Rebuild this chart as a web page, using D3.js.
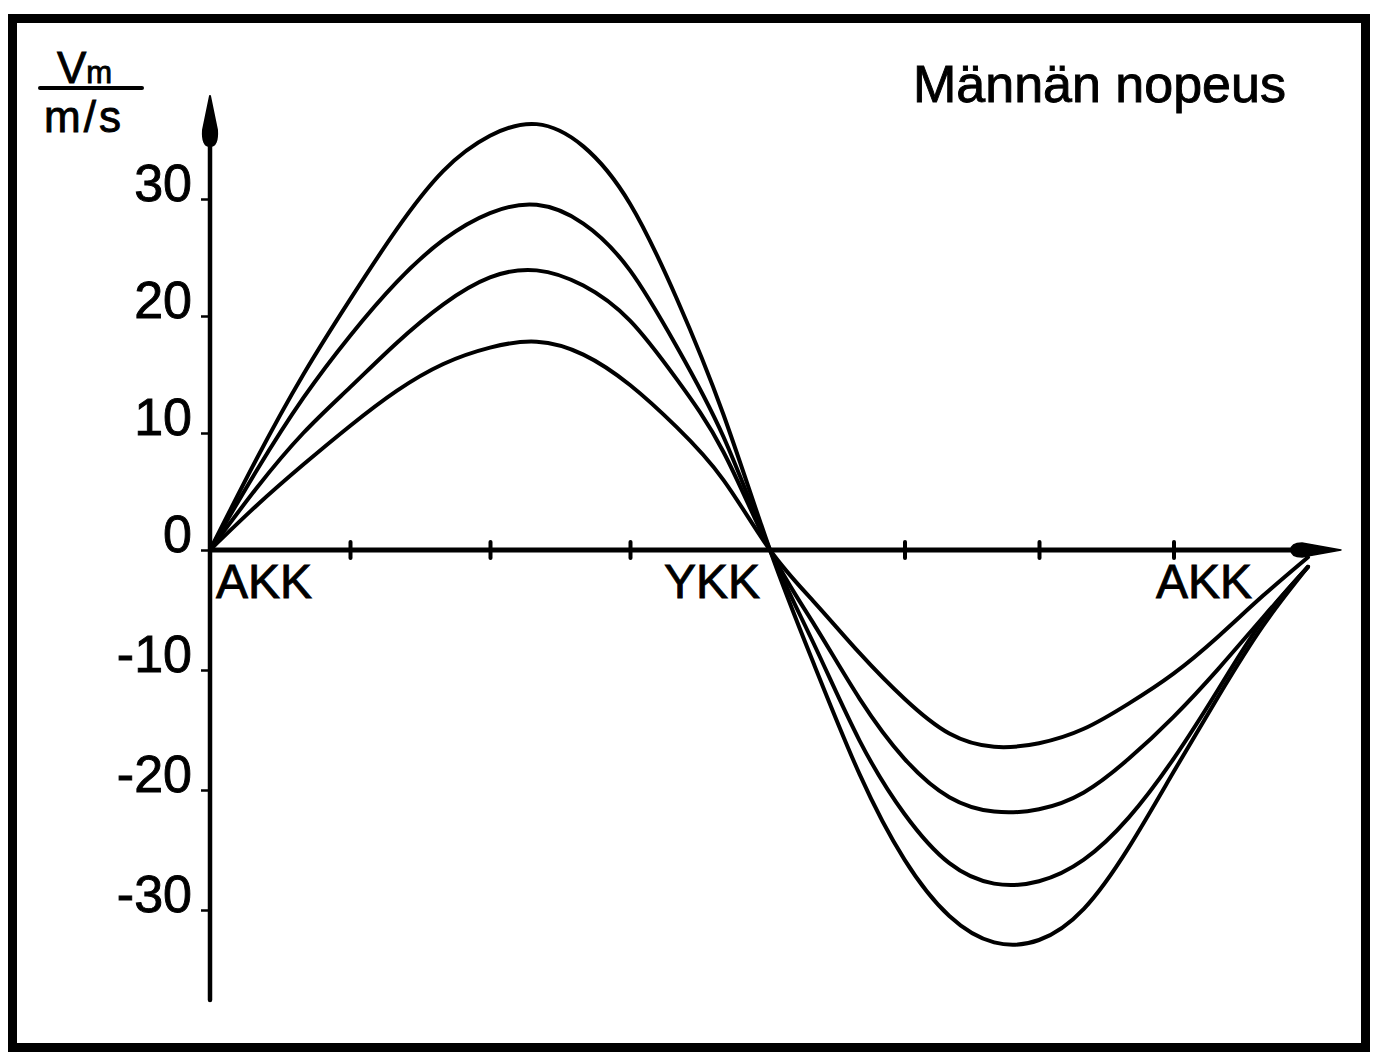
<!DOCTYPE html>
<html>
<head>
<meta charset="utf-8">
<script src="https://cdn.jsdelivr.net/npm/d3@7"></script>
<style>
  html, body { margin: 0; padding: 0; background: #fff; }
  svg { display: block; }
  text { font-family: "Liberation Sans", Arial, sans-serif; fill: #000; stroke: #000; stroke-width: 0.9px; }
</style>
</head>
<body>
<svg id="chart" width="1384" height="1052"></svg>
<script>
// Crank angle (degrees from bottom dead centre) and piston speed in m/s
const crankAngles = [0, 15, 30, 45, 60, 75, 90, 105, 120, 135, 150, 165, 180,
                     195, 210, 225, 240, 255, 270, 285, 300, 315, 330, 345, 360];

const speedCurve1 = [0, 7.8, 15.0, 21.4, 27.4, 32.4, 35.4, 36.4, 34.5, 29.6, 21.5, 11.6, 0,
                     -9.7, -18.7, -25.8, -30.5, -32.7, -32.5, -29.9, -24.8, -18.5, -12.2, -6.3, -1.4];
const speedCurve2 = [0, 6.8, 13.0, 18.3, 22.9, 26.5, 28.8, 29.5, 27.9, 23.9, 17.4, 9.7, 0,
                     -8.0, -15.9, -22.0, -26.1, -27.8, -27.6, -25.8, -22.3, -17.4, -11.6, -5.8, -1.4];
const speedCurve3 = [0, 5.3, 10.0, 13.9, 17.7, 21.0, 23.3, 23.9, 22.6, 19.6, 14.6, 8.4, 0,
                     -6.3, -12.4, -17.4, -20.6, -21.8, -21.6, -20.2, -17.4, -13.9, -9.9, -5.6, -1.4];
const speedCurve4 = [0, 3.8, 7.3, 10.6, 13.6, 15.9, 17.3, 17.8, 16.7, 14.1, 10.5, 6.0, 0,
                     -4.4, -8.6, -12.4, -15.3, -16.4, -16.1, -14.9, -12.8, -10.3, -7.2, -3.8, -0.6];

const yTickValues = [-30, -20, -10, 0, 10, 20, 30];
const xTickValues = [45, 90, 135, 225, 270, 315];
const deadCentreLabels = [
  { angle: 0,   text: "AKK" },
  { angle: 180, text: "YKK" },
  { angle: 360, text: "AKK" }
];
const titleText = "Männän nopeus";
const unitTop = "V";
const unitTopSub = "m";
const unitBottom = "m/s";

const svg = d3.select("#chart");

// Scales (piecewise to follow the drawn grid)
const x = d3.scaleLinear().domain([0, 180, 360]).range([210, 770, 1308]);
const y = d3.scaleLinear().domain([-30, 0, 30]).range([910, 550, 199]);
const x0 = x(0), y0 = y(0);

// Frame
svg.append("rect")
  .attr("x", 12.5).attr("y", 18.5)
  .attr("width", 1353).attr("height", 1029)
  .attr("fill", "none").attr("stroke", "#000").attr("stroke-width", 9);

// Y axis with ticks and labels
const yAxis = d3.axisLeft(y)
  .tickValues(yTickValues)
  .tickSize(9)
  .tickPadding(9)
  .tickFormat(d => String(d).replace("\u2212", "-"));
const gy = svg.append("g").attr("transform", `translate(${x0},0)`).call(yAxis);
gy.select(".domain").remove();
gy.selectAll(".tick line").attr("stroke", "#000").attr("stroke-width", 2.5);
gy.selectAll(".tick text")
  .attr("dy", "0.02em")
  .style("font-size", "52px")
  .style("font-family", "'Liberation Sans', Arial, sans-serif")
  .attr("fill", "#000");

// Y axis line and arrowhead
svg.append("line")
  .attr("x1", x0).attr("x2", x0)
  .attr("y1", 1000).attr("y2", 140)
  .attr("stroke", "#000").attr("stroke-width", 4.5).attr("stroke-linecap", "round");
svg.append("path")
  .attr("d", `M${x0},96 L${x0 - 7},130 Q${x0 - 8},146 ${x0},146 Q${x0 + 8},146 ${x0 + 7},130 Z`)
  .attr("fill", "#000").attr("stroke", "#000").attr("stroke-width", 2).attr("stroke-linejoin", "round");

// X axis line, ticks and arrowhead
svg.append("line")
  .attr("x1", x0).attr("x2", 1300)
  .attr("y1", y0).attr("y2", y0)
  .attr("stroke", "#000").attr("stroke-width", 5);
const xAxis = d3.axisBottom(x).tickValues(xTickValues).tickSize(8).tickFormat("");
const gx = svg.append("g").attr("transform", `translate(0,${y0})`).call(xAxis);
gx.select(".domain").remove();
gx.selectAll(".tick line")
  .attr("y1", -8).attr("y2", 8)
  .attr("stroke", "#000").attr("stroke-width", 4).attr("stroke-linecap", "round");
svg.append("path")
  .attr("d", `M1341,${y0} L1302,${y0 - 7} Q1291,${y0 - 7} 1291,${y0} Q1291,${y0 + 7} 1302,${y0 + 7} Z`)
  .attr("fill", "#000").attr("stroke", "#000").attr("stroke-width", 1.5).attr("stroke-linejoin", "round");

// Dead-centre labels under the axis
svg.selectAll("text.dc")
  .data(deadCentreLabels)
  .join("text")
  .attr("class", "dc")
  .attr("x", d => d.angle === 0 ? x(d.angle) + 6 : (d.angle === 180 ? x(d.angle) - 10 : x(d.angle) - 56))
  .attr("y", y0 + 48)
  .attr("text-anchor", d => d.angle === 0 ? "start" : "end")
  .style("font-size", "48px")
  .text(d => d.text);

// Speed curves
const curves = [speedCurve1, speedCurve2, speedCurve3, speedCurve4];
const line = d3.line()
  .x((d, i) => x(crankAngles[i]))
  .y(d => y(d))
  .curve(d3.curveNatural);
svg.append("g")
  .selectAll("path")
  .data(curves)
  .join("path")
  .attr("d", line)
  .attr("fill", "none")
  .attr("stroke", "#000")
  .attr("stroke-width", 4)
  .attr("stroke-linejoin", "round")
  .attr("stroke-linecap", "round");

// Title
svg.append("text")
  .attr("x", 913).attr("y", 102)
  .style("font-size", "52px")
  .text(titleText);

// Unit label  Vm / (m/s)
const unit = svg.append("text").attr("x", 57).attr("y", 83).style("font-size", "44px");
unit.append("tspan").text(unitTop);
unit.append("tspan").style("font-size", "31px").text(unitTopSub);
svg.append("line")
  .attr("x1", 40).attr("x2", 142).attr("y1", 88).attr("y2", 88)
  .attr("stroke", "#000").attr("stroke-width", 4).attr("stroke-linecap", "round");
svg.append("text")
  .attr("x", 44).attr("y", 132)
  .style("font-size", "44px")
  .style("letter-spacing", "3px")
  .text(unitBottom);
</script>
</body>
</html>
